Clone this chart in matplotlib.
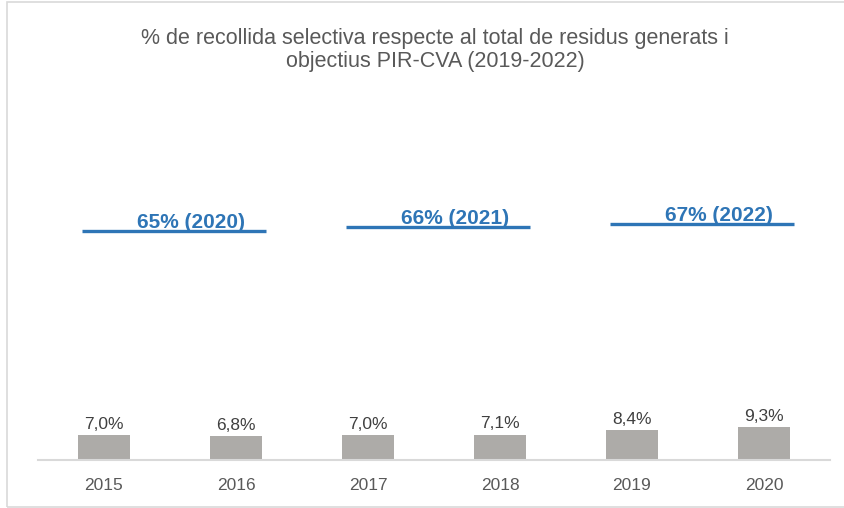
import matplotlib.pyplot as plt
from matplotlib.patches import Rectangle

plt.rcParams['font.family'] = ['Liberation Sans', 'DejaVu Sans']

# Dades
anys = ['2015', '2016', '2017', '2018', '2019', '2020']
recollida = [7.0, 6.8, 7.0, 7.1, 8.4, 9.3]
etiquetes = ['7,0%', '6,8%', '7,0%', '7,1%', '8,4%', '9,3%']
objectius = [65, 66, 67]
objectius_text = ['65% (2020)', '66% (2021)', '67% (2022)']
objectius_inici = [0, 2, 4]

fig = plt.figure(figsize=(8.45, 5.08), dpi=100)
ax = fig.add_axes([38/845, 48/508, 792/845, 370/508])

x = range(len(anys))
ax.bar(x, recollida, width=0.4, color='#ADABA8', zorder=2)
for i, (v, t) in enumerate(zip(recollida, etiquetes)):
    ax.text(i, v + 1.0, t, ha='center', va='bottom', fontsize=12.5, color='#404040')

for v, t, i0 in zip(objectius, objectius_text, objectius_inici):
    ax.hlines(v, i0 - 0.17, i0 + 1.23, color='#2E75B6', linewidth=2.4)
    ax.text(i0 + 0.66, v - 0.2, t, ha='center', va='bottom', fontsize=15,
            fontweight='bold', color='#2E75B6')

ax.set_xlim(-0.5, 5.5)
ax.set_ylim(0, 105)
ax.set_xticks(list(x))
ax.set_xticklabels(anys, fontsize=12.5, color='#595959')
ax.tick_params(axis='x', length=0, pad=13)
ax.set_yticks([])
for s in ['top', 'right', 'left']:
    ax.spines[s].set_visible(False)
ax.spines['bottom'].set_color('#D9D9D9')
ax.spines['bottom'].set_linewidth(1.5)

fig.text(435/845, 1 - 50/508, '% de recollida selectiva respecte al total de residus generats i\nobjectius PIR-CVA (2019-2022)',
         ha='center', va='center', fontsize=15.5, color='#595959', linespacing=1.15)

fig.patches.append(Rectangle((7/845, 1/508), 1.0, 1 - 3/508, transform=fig.transFigure,
                             fill=False, edgecolor='#D9D9D9', linewidth=1.2))

fig.savefig('out.png', dpi=100)
